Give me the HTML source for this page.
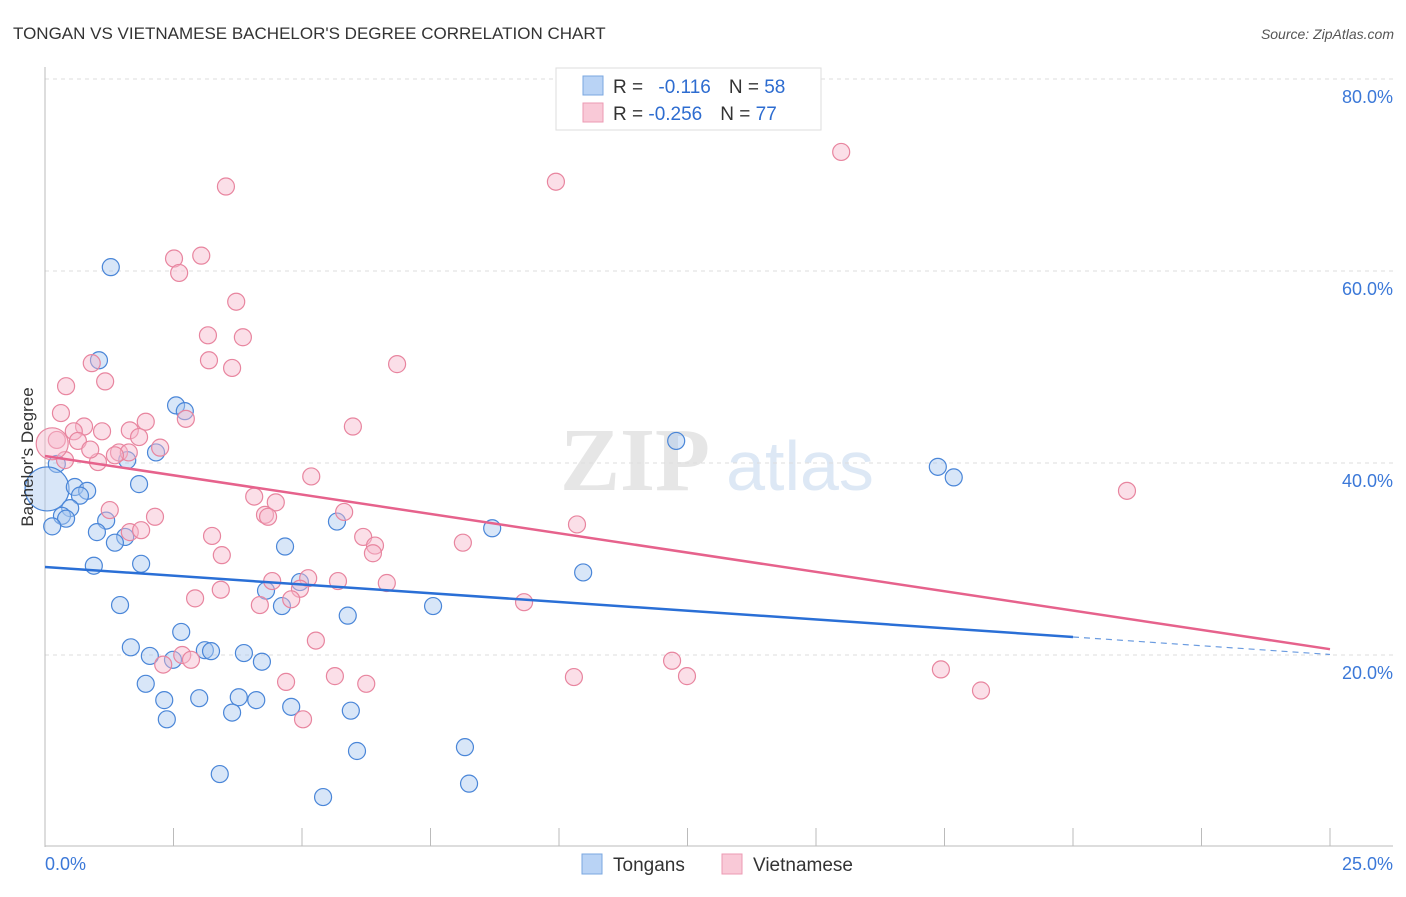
<!DOCTYPE html>
<html><head><meta charset="utf-8"><style>
body{margin:0;background:#fff;font-family:"Liberation Sans",sans-serif;}
</style></head><body>
<svg id="chart" width="1406" height="892" xmlns="http://www.w3.org/2000/svg">
<text x="13" y="39" font-size="17" fill="#333">TONGAN VS VIETNAMESE BACHELOR'S DEGREE CORRELATION CHART</text>
<text x="1394" y="39" font-size="14" fill="#555" font-style="italic" text-anchor="end">Source: ZipAtlas.com</text>
<text x="635" y="490" font-size="90" fill="#e6e6e6" font-family="Liberation Serif,serif" font-weight="bold" text-anchor="middle">ZIP</text>
<text x="800" y="490" font-size="70" fill="#dde8f5" text-anchor="middle">atlas</text>
<g id="grid"></g><g id="axes"></g><g id="pts"></g><g id="lines"></g>
<text x="33" y="457" font-size="17" fill="#333" text-anchor="middle" transform="rotate(-90 33 457)">Bachelor's Degree</text>
<g>
<rect x="556" y="68" width="265" height="62" fill="#fff" stroke="#ddd"/>
<rect x="583" y="76" width="20" height="19" fill="#b9d3f5" stroke="#7aa7e0"/>
<rect x="583" y="103" width="20" height="19" fill="#f9c9d7" stroke="#ec9ab3"/>
<text x="613" y="93" font-size="19" fill="#333">R = <tspan fill="#2d6cd0" dx="10">-0.116</tspan><tspan dx="18" fill="#333">N = </tspan><tspan fill="#2d6cd0">58</tspan></text>
<text x="613" y="120" font-size="19" fill="#333">R = <tspan fill="#2d6cd0">-0.256</tspan><tspan dx="18" fill="#333">N = </tspan><tspan fill="#2d6cd0">77</tspan></text>
</g>
<g>
<rect x="582" y="854" width="20" height="20" fill="#b9d3f5" stroke="#7aa7e0"/>
<text x="613" y="871" font-size="19" fill="#333">Tongans</text>
<rect x="722" y="854" width="20" height="20" fill="#f9c9d7" stroke="#ec9ab3"/>
<text x="753" y="871" font-size="19" fill="#333">Vietnamese</text>
</g>
</svg>
<script>
const xTicks=[0,2.5,5,7.5,10,12.5,15,17.5,20,22.5,25];
const yTicks=[20,40,60,80];
const yTickLabels=["20.0%","40.0%","60.0%","80.0%"];
const tongX=[1.28,1.05,2.55,2.72,12.28,2.16,1.60,0.23,17.37,17.68,1.83,0.04,0.58,0.82,0.68,0.49,0.33,0.41,0.14,1.19,1.01,1.56,1.36,8.70,5.68,4.67,1.87,0.95,10.47,4.96,4.30,4.61,7.55,1.46,5.89,2.65,1.67,2.04,3.87,3.11,3.23,4.22,2.49,1.96,2.32,3.00,3.77,4.11,4.79,3.64,2.37,5.95,6.07,8.17,3.40,8.25,5.41];
const tongY=[60.4,50.7,46.0,45.4,42.3,41.1,40.3,39.9,39.6,38.5,37.8,37.3,37.5,37.1,36.6,35.3,34.5,34.2,33.4,34.0,32.8,32.3,31.7,33.2,33.9,31.3,29.5,29.3,28.6,27.6,26.7,25.1,25.1,25.2,24.1,22.4,20.8,19.9,20.2,20.5,20.4,19.3,19.5,17.0,15.3,15.5,15.6,15.3,14.6,14.0,13.3,14.2,10.0,10.4,7.6,6.6,5.2];
const vietX=[15.49,3.52,9.94,3.04,2.51,2.61,3.72,3.17,3.85,3.19,3.64,6.85,0.91,1.17,0.41,0.31,1.96,2.74,5.99,0.76,1.11,0.56,1.65,0.23,1.83,1.44,1.63,2.24,0.64,0.39,1.03,0.88,1.36,5.18,4.07,4.49,1.26,4.28,4.34,5.82,2.14,10.35,1.65,1.87,3.25,6.19,6.42,6.38,8.13,3.44,6.65,4.42,5.12,5.70,4.96,4.79,2.92,3.42,4.18,9.32,5.27,2.67,2.84,2.30,5.64,6.25,4.69,12.20,12.49,10.29,5.02,17.43,18.21,21.05,0.14];
const vietY=[72.4,68.8,69.3,61.6,61.3,59.8,56.8,53.3,53.1,50.7,49.9,50.3,50.4,48.5,48.0,45.2,44.3,44.6,43.8,43.8,43.3,43.3,43.4,42.4,42.7,41.1,41.1,41.6,42.3,40.3,40.1,41.4,40.8,38.6,36.5,35.9,35.1,34.6,34.4,34.9,34.4,33.6,32.8,33.0,32.4,32.3,31.4,30.6,31.7,30.4,27.5,27.7,28.0,27.7,26.9,25.8,25.9,26.8,25.2,25.5,21.5,20.0,19.5,19.0,17.8,17.0,17.2,19.4,17.8,17.7,13.3,18.5,16.3,37.1,42.0];
const tongTrend=[29.17,-0.3646]; const tongSolidEnd=20;
const vietTrend=[40.73,-0.805];
const NS="http://www.w3.org/2000/svg";
const X=v=>45+v/25*1285, Y=v=>847-v*9.6;
function mk(tag,attrs,parent){const e=document.createElementNS(NS,tag);for(const k in attrs)e.setAttribute(k,attrs[k]);parent.appendChild(e);return e;}
const grid=document.getElementById('grid'),axes=document.getElementById('axes'),pts=document.getElementById('pts'),lines=document.getElementById('lines');
yTicks.forEach((t,i)=>{
 const l=mk('line',{x1:45,x2:1393,y1:Y(t),y2:Y(t),stroke:'#ddd','stroke-dasharray':'4,4'},grid);
 
 
 const tx=mk('text',{x:1393,y:Y(t)+24,'font-size':18,fill:'#3b78d8','text-anchor':'end'},axes);
 tx.textContent=yTickLabels[i];
 
 
});
const ax=mk('line',{x1:45,x2:45,y1:67,y2:847,stroke:'#bbb'},axes);


const bx=mk('line',{x1:45,x2:1393,y1:846,y2:846,stroke:'#bbb'},axes);


xTicks.forEach(t=>{
 const l=mk('line',{x1:X(t),x2:X(t),y1:828,y2:846,stroke:'#bbb'},axes);
 
 
});
[[0,'0.0%','start',45],[25,'25.0%','end',1393]].forEach(a=>{
 const t=mk('text',{x:a[3],y:870,'font-size':18,fill:'#3b78d8','text-anchor':a[2]},axes);
 t.textContent=a[1];
 
 
});
function dots(xs,ys,fill,stroke,name,bigIdx,bigR){
 xs.forEach((x,i)=>{
  const c=mk('circle',{cx:X(x),cy:Y(ys[i]),r:i===bigIdx?bigR:8.5,fill:fill,'fill-opacity':0.45,stroke:stroke,'stroke-width':1.2},pts);
  
  
 });
}
dots(tongX,tongY,'#a9c8f0','#4a86d8','tongan-point',11,22);
dots(vietX,vietY,'#f7b9cc','#e8859f','vietnamese-point',74,16);
const f=(tr,x)=>tr[0]+tr[1]*x;
let l1=mk('line',{x1:X(0),y1:Y(f(tongTrend,0)),x2:X(tongSolidEnd),y2:Y(f(tongTrend,tongSolidEnd)),stroke:'#2a6fd6','stroke-width':2.5},lines);


let l2=mk('line',{x1:X(tongSolidEnd),y1:Y(f(tongTrend,tongSolidEnd)),x2:X(25),y2:Y(f(tongTrend,25)),stroke:'#6a9be0','stroke-width':1.2,'stroke-dasharray':'6,5'},lines);


let l3=mk('line',{x1:X(0),y1:Y(f(vietTrend,0)),x2:X(25),y2:Y(f(vietTrend,25)),stroke:'#e6628c','stroke-width':2.5},lines);


</script>
</body></html>
